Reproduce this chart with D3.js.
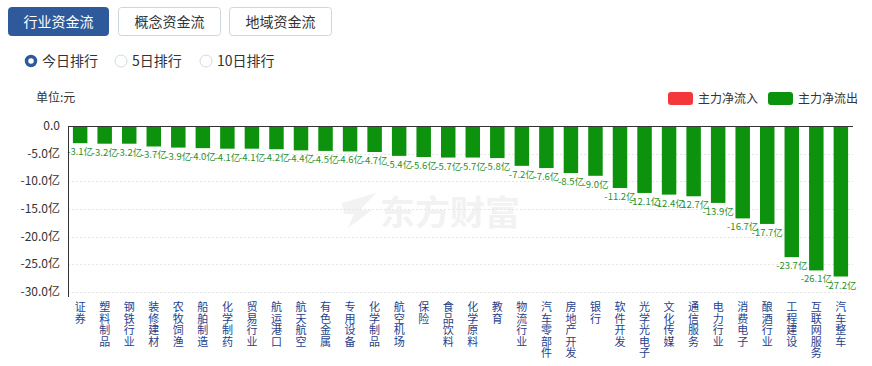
<!DOCTYPE html>
<html>
<head>
<meta charset="utf-8">
<script src="https://cdn.jsdelivr.net/npm/d3@7/dist/d3.min.js"></script>
<style>
  body { margin: 0; background: #fff; font-family: "Microsoft YaHei", "Noto Sans CJK SC", sans-serif; }
</style>
</head>
<body>
<script>
// categories and net outflow (亿元)
var categories = ['证券','塑料制品','钢铁行业','装修建材','农牧饲渔','船舶制造','化学制药','贸易行业',
  '航运港口','航天航空','有色金属','专用设备','化学制品','航空机场','保险','食品饮料',
  '化学原料','教育','物流行业','汽车零部件','房地产开发','银行','软件开发','光学光电子',
  '文化传媒','通信服务','电力行业','消费电子','酿酒行业','工程建设','互联网服务','汽车整车'];
var values = [-3.1,-3.2,-3.2,-3.7,-3.9,-4.0,-4.1,-4.1,
  -4.2,-4.4,-4.5,-4.6,-4.7,-5.4,-5.6,-5.7,
  -5.7,-5.8,-7.2,-7.6,-8.5,-9.0,-11.2,-12.1,
  -12.4,-12.7,-13.9,-16.7,-17.7,-23.7,-26.1,-27.2];
var yTicks = [0, -5, -10, -15, -20, -25, -30];
var tabs = ['行业资金流', '概念资金流', '地域资金流'];
var ranks = ['今日排行', '5日排行', '10日排行'];
var legendItems = [{name: '主力净流入', color: '#f4373b'}, {name: '主力净流出', color: '#0c920c'}];

var w = 872, h = 366;
// plot box (note: "top" is reserved on window, so use pl/pr/pt/pb)
var pl = 68, pr = 853, pt = 126, pb = 292;

var svg = d3.select('body').append('svg')
    .attr('width', w)
    .attr('height', h)
    .style('display', 'block');

// tabs
var tabX = [8, 118, 229], tabW = [100, 102, 102];
tabs.forEach(function(t, i) {
  svg.append('rect')
    .attr('x', tabX[i] + 0.5).attr('y', 7.5)
    .attr('width', tabW[i]).attr('height', 28)
    .attr('rx', 3)
    .attr('fill', i == 0 ? '#2e5a9c' : '#fff')
    .attr('stroke', i == 0 ? '#2e5a9c' : '#cfd6e0');
  svg.append('text')
    .attr('x', tabX[i] + tabW[i] / 2 + 0.5).attr('y', 27)
    .attr('text-anchor', 'middle')
    .attr('font-size', 14)
    .attr('fill', i == 0 ? '#fff' : '#333')
    .text(t);
});

// radio buttons
var radioX = [31, 121, 206];
ranks.forEach(function(t, i) {
  if (i == 0) {
    svg.append('circle').attr('cx', radioX[i]).attr('cy', 61).attr('r', 4.5)
      .attr('fill', '#fff').attr('stroke', '#2e5a9c').attr('stroke-width', 3.5);
  } else {
    svg.append('circle').attr('cx', radioX[i]).attr('cy', 61).attr('r', 6)
      .attr('fill', '#fff').attr('stroke', '#d3dae4');
  }
  svg.append('text')
    .attr('x', radioX[i] + 11).attr('y', 66)
    .attr('font-size', 14).attr('fill', '#333')
    .text(t);
});

// unit
svg.append('text').attr('x', 36).attr('y', 102)
  .attr('font-size', 12).attr('fill', '#333').text('单位:元');

// legend
var legX = [668, 768];
legendItems.forEach(function(d, i) {
  svg.append('rect').attr('x', legX[i]).attr('y', 92).attr('width', 25).attr('height', 13)
    .attr('rx', 3).attr('fill', d.color);
  svg.append('text').attr('x', legX[i] + 30).attr('y', 103)
    .attr('font-size', 12).attr('fill', '#333').text(d.name);
});

// watermark
var wm = svg.append('g').attr('fill', '#f2f2f2');
wm.append('path')
  .attr('d', 'M342,203 L376,193 L360,210 L372,210 L348,228 L354,214 L344,214 Z');
wm.append('text').attr('x', 380).attr('y', 225)
  .attr('font-size', 34).attr('font-weight', 'bold')
  .attr('textLength', 140).attr('lengthAdjust', 'spacingAndGlyphs')
  .text('东方财富');

var xScale = d3.scaleBand()
    .domain(categories)
    .range([pl, pr])
    .paddingInner(0.41)
    .paddingOuter(0.2);

var yScale = d3.scaleLinear()
    .domain([0, -30])
    .range([pt, pb]);

// grid
svg.selectAll('.grid').data(yTicks.slice(1)).enter().append('line')
  .attr('class', 'grid')
  .attr('x1', pl).attr('x2', pr)
  .attr('y1', d => Math.round(yScale(d)) + 0.5)
  .attr('y2', d => Math.round(yScale(d)) + 0.5)
  .attr('stroke', '#e6e6e6')
  .attr('stroke-dasharray', '2,2');

// y labels
svg.selectAll('.ylab').data(yTicks).enter().append('text')
  .attr('class', 'ylab')
  .attr('x', 60).attr('y', d => yScale(d) + 4)
  .attr('text-anchor', 'end')
  .attr('font-size', 12).attr('fill', '#333')
  .text(d => d == 0 ? '0.0' : d.toFixed(1) + '亿');

// bars
svg.selectAll('.bar').data(values).enter().append('rect')
  .attr('class', 'bar')
  .attr('x', (d, i) => xScale(categories[i]))
  .attr('y', yScale(0))
  .attr('width', xScale.bandwidth())
  .attr('height', d => yScale(d) - yScale(0))
  .attr('fill', '#0c920c');

// bar labels
svg.selectAll('.blab').data(values).enter().append('text')
  .attr('class', 'blab')
  .attr('x', (d, i) => xScale(categories[i]) + xScale.bandwidth() / 2)
  .attr('y', d => yScale(d) + 12)
  .attr('text-anchor', 'middle')
  .attr('font-size', 9.5)
  .attr('fill', '#2a922a')
  .text(d => d.toFixed(1) + '亿');

// axes lines
svg.append('line').attr('x1', pl).attr('x2', pr)
  .attr('y1', pt + 0.5).attr('y2', pt + 0.5).attr('stroke', '#333');
svg.append('line').attr('x1', pl + 0.5).attr('x2', pl + 0.5)
  .attr('y1', pt).attr('y2', pb + 5).attr('stroke', '#333');

// vertical category labels, one character per line
var cl = svg.selectAll('.clab').data(categories).enter().append('text')
  .attr('class', 'clab')
  .attr('font-size', 11)
  .attr('fill', '#1f3f8c')
  .attr('text-anchor', 'middle');
cl.each(function(c) {
  var t = d3.select(this);
  var cx = xScale(c) + xScale.bandwidth() / 2;
  c.split('').forEach(function(ch, k) {
    t.append('tspan').attr('x', cx).attr('y', 311 + k * 11.5).text(ch);
  });
});
</script>
</body>
</html>
